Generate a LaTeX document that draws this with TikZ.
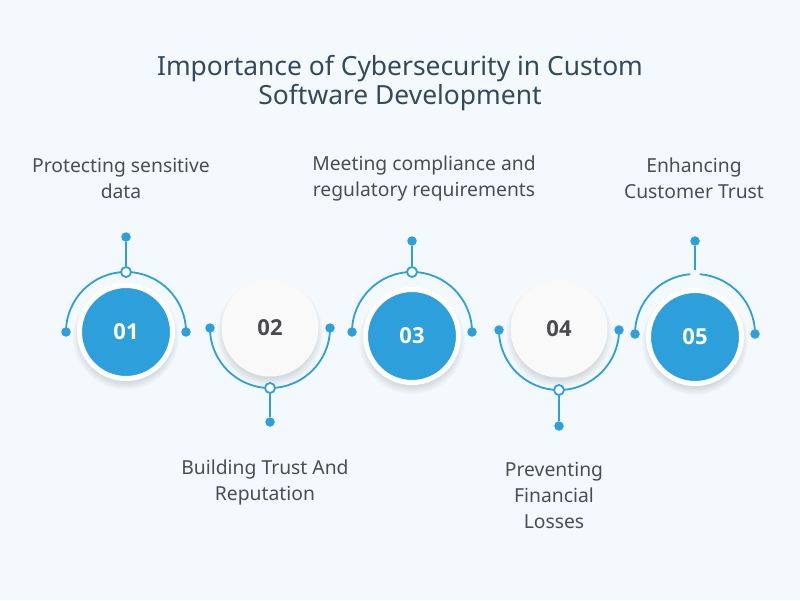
\documentclass[tikz,border=0pt]{standalone}
\usepackage{fontspec}
\setmainfont{Noto Sans}
\newfontfamily\numfont{Open Sans}
\definecolor{bgc}{HTML}{F4F9FD}
\definecolor{accent}{HTML}{2D9FDA}
\definecolor{titlec}{HTML}{34495E}
\definecolor{txtc}{HTML}{4A4E54}
\definecolor{numc}{HTML}{4A4A4F}
\definecolor{discw}{HTML}{F9F9F9}
\tikzset{
  conn/.style={draw=accent, line width=1.8pt},
  enddot/.style={circle, fill=accent, inner sep=0pt, minimum size=9.5pt},
  ringdot/.style={circle, draw=accent, fill=white, line width=1.8pt, inner sep=0pt, minimum size=10pt},
  bluedisc/.style={circle, fill=accent, draw=white, line width=5pt, inner sep=0pt, minimum size=93pt, text=white, font=\numfont\bfseries\fontsize{22}{26}\selectfont},
  whitedisc/.style={circle, fill=discw, inner sep=0pt, minimum size=97pt, text=numc, font=\numfont\bfseries\fontsize{22}{26}\selectfont},
  label/.style={align=center, text=txtc, font=\fontsize{19.3}{26}\selectfont, inner sep=0pt},
  titlelabel/.style={align=center, text=titlec, font=\fontsize{26.4}{29}\selectfont, inner sep=0pt}
}
\newcommand\softshadow[3]{%
  \foreach \k in {0,...,9}{\fill[black, opacity=0.012] (#1,#2+5) circle[radius=#3+\k*0.8];}}
\begin{document}
\begin{tikzpicture}[x=1pt,y=-1pt]
\fill[bgc] (0,0) rectangle (800,600);
\useasboundingbox (0,0) rectangle (800,600);

% title
\node[titlelabel] (title) at (400,83) {Importance of Cybersecurity in Custom\\Software Development};

% ---------- item 1 (top arc) ----------
\softshadow{126}{332}{46}
\draw[conn] (66,332) arc[start angle=180, end angle=360, radius=60];
\node[enddot] (e1l) at (66,332) {};
\node[enddot] (e1r) at (186,332) {};
\node[ringdot] (r1) at (126,272) {};
\node[enddot] (t1) at (126,237) {};
\draw[conn] (t1) -- (r1);
\node[bluedisc] (c1) at (126,332) {01};

% ---------- item 2 (bottom arc) ----------
\softshadow{270}{328}{46}
\draw[conn] (210,328) arc[start angle=180, end angle=0, radius=60];
\node[enddot] (e2l) at (210,328) {};
\node[enddot] (e2r) at (330,328) {};
\node[ringdot] (r2) at (270,388) {};
\node[enddot] (t2) at (270,422) {};
\draw[conn] (r2) -- (t2);
\node[whitedisc] (c2) at (270,328) {02};

% ---------- item 3 (top arc) ----------
\softshadow{412}{336}{46}
\draw[conn] (352,332) arc[start angle=180, end angle=360, radius=60];
\node[enddot] (e3l) at (352,332) {};
\node[enddot] (e3r) at (472,332) {};
\node[ringdot] (r3) at (412,272) {};
\node[enddot] (t3) at (412,241) {};
\draw[conn] (t3) -- (r3);
\node[bluedisc] (c3) at (412,336) {03};

% ---------- item 4 (bottom arc) ----------
\softshadow{559}{329}{46}
\draw[conn] (499,330) arc[start angle=180, end angle=0, radius=60];
\node[enddot] (e4l) at (499,330) {};
\node[enddot] (e4r) at (619,330) {};
\node[ringdot] (r4) at (559,390) {};
\node[enddot] (t4) at (559,426) {};
\draw[conn] (r4) -- (t4);
\node[whitedisc] (c4) at (559,329) {04};

% ---------- item 5 (top arc with gap) ----------
\softshadow{695}{337}{46}
\draw[conn] (635,334) arc[start angle=180, end angle=265.5, radius=60];
\draw[conn] (755,334) arc[start angle=360, end angle=274.5, radius=60];
\node[enddot] (e5l) at (635,334) {};
\node[enddot] (e5r) at (755,334) {};
\coordinate (s5) at (695,270);
\node[enddot] (t5) at (695,241) {};
\draw[conn] (t5) -- (s5);
\node[bluedisc] (c5) at (695,337) {05};

% labels
\node[label] (l1) at (121,178) {Protecting sensitive\\data};
\node[label] (l3) at (424,178) {Meeting compliance and\\regulatory requirements};
\node[label] (l5) at (694,178) {Enhancing\\Customer Trust};
\node[label] (l2) at (265,482) {Building Trust And\\Reputation};
\node[label] (l4) at (554,495) {Preventing\\Financial\\Losses};
\end{tikzpicture}
\end{document}
